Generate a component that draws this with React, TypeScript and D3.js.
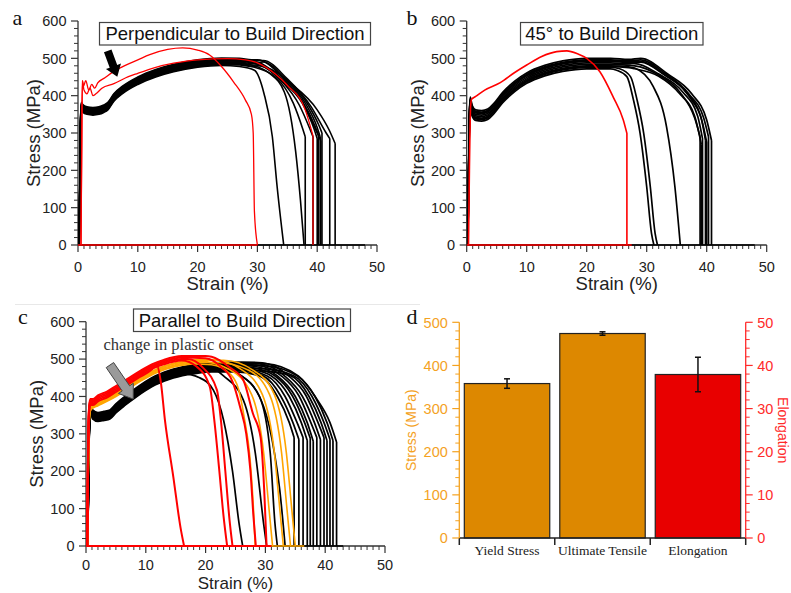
import React from 'react';
import * as d3 from 'd3';

type Pt = [number, number];

const SANS = '"Liberation Sans", Arial, sans-serif';
const SERIF = '"Liberation Serif", "Times New Roman", serif';

// ---------- a) perpendicular to build direction ----------
const aBlackBase: Pt[] = [[0.2,0],[0.3,150],[0.42,320],[0.55,372],[0.8,366],[1.5,360],[2.5,358],[3.5,360],[4.3,365],[5,372],[6,395],[7.5,416],[10,440],[13,460],[16,474],[20,486],[24,491],[27,490],[29,486]];
const aBlackOffsets = [-10, -6, -2, 2, 6, 10, -8, 8, 0, 4, -4];
const aBlackNecks: Pt[][] = [
  [[27,488],[29.5,468],[31.1,406],[32.5,290],[33.3,156],[34.4,0]],
  [[29,484],[33,450],[36,380],[37.6,310],[38,290]],
  [[29,484],[32,460],[34.5,410],[36.4,250],[37.2,120],[37.8,0]],
  [[30,482],[34,440],[37,375],[38.8,310],[39.3,290]],
  [[30,484],[34,445],[37.5,385],[39.6,320],[40.2,295]],
  [[30,486],[34.5,445],[38,380],[40,315],[40.5,290]],
  [[30,488],[35,440],[38.5,375],[40.3,320],[40.8,300]],
  [[31,486],[35,445],[39,370],[41.5,300],[42.1,285]],
  [[31,490],[35,440],[40,362],[42,308],[43,272]],
  [[30,484],[34,440],[37.5,380],[39.5,310],[40,285]],
  [[30,486],[34.5,440],[38,370],[40,300],[40.6,280]],
];
const aRed1: Pt[] = [[0.5,0],[0.6,220],[0.7,440],[0.9,425],[1.3,440],[1.8,415],[2.3,430],[2.8,420],[3.3,434],[4.5,448],[6,465],[8,482],[10,496],[12,510],[15,524],[17.5,528],[20,522],[22,509],[24,478],[26,437],[28,388],[29,350],[29.3,300],[29.5,90],[30,0]];
const aRed2: Pt[] = [[0.5,0],[0.6,200],[0.75,440],[1,415],[1.5,405],[2,420],[2.5,400],[3,405],[4,420],[6,432],[8,448],[10,460],[13,476],[16,487],[20,496],[25,499],[28,496],[30,488],[33,458],[35,428],[38,362],[39.3,292]];

// ---------- b) 45 deg to build direction ----------
const bBlackBase: Pt[] = [[0.2,0],[0.3,160],[0.45,340],[0.6,382],[0.9,360],[1.5,348],[2.5,346],[3.5,350],[4.5,365],[6,395],[8,425],[10,447],[13,467],[16,479],[20,486],[24,486],[27,483]];
const bBlackOffsets = [-14, -10, -6, -2, 2, 6, 10, 14, -8, 8];
const bBlackNecks: Pt[][] = [
  [[25,482],[26.7,451],[27.8,388],[28.9,299],[30,156],[30.8,31],[31.2,0]],
  [[25.5,482],[27.3,451],[28.4,388],[29.5,299],[30.6,156],[31.4,31],[31.8,0]],
  [[28,480],[31.1,424],[33.3,317],[34.7,156],[35.6,0]],
  [[28,482],[32,455],[35.5,410],[38,340],[38.9,290]],
  [[28,484],[32,458],[36,410],[38.5,345],[39.3,285]],
  [[29,484],[33,455],[36.5,410],[39,345],[39.8,280]],
  [[29,486],[33,460],[37,405],[39.5,340],[40.3,290]],
  [[29,486],[33.5,458],[37.5,405],[40,335],[40.8,280]],
  [[28,480],[32,452],[35.5,405],[38,345],[39.1,270]],
  [[29,484],[33,456],[37,400],[39.4,320],[40,275]],
];
const bRed: Pt[] = [[0.3,0],[0.45,200],[0.65,370],[0.8,390],[1.5,398],[3,415],[5.6,435],[8,462],[10,482],[12.5,505],[15,518],[16.7,520],[18.5,512],[20,500],[22.2,464],[24.4,397],[26.1,335],[26.7,299]];

// ---------- c) parallel to build direction ----------
const cBlackBase: Pt[] = [[0.3,0],[0.4,160],[0.6,340],[0.8,378],[1.1,352],[2,345],[3,348],[4,352],[5,368],[6.5,388],[8.5,412],[11,438],[14,458],[17,470],[21,478],[26,480],[30,478]];
const cBlackOffsets = [-12, -9, -6, -3, 0, 3, 6, 9, 12, -10, -4, 4, 10, -7, 7, -1, 1];
const cBlackNecks: Pt[][] = [
  [[25,478],[29,455],[32,400],[34,330],[34.8,290]],
  [[25.5,478],[29.6,455],[32.6,400],[34.6,330],[35.6,285]],
  [[26,478],[30.3,455],[33.3,400],[35.3,330],[36.3,290]],
  [[27,478],[31,455],[34,400],[36,330],[37,282]],
  [[27.5,478],[31.5,456],[34.5,402],[36.5,332],[37.5,288]],
  [[28,478],[32,455],[35,400],[37,330],[38,280]],
  [[28.5,478],[32.6,456],[35.6,402],[37.6,330],[38.6,290]],
  [[29,478],[33.2,455],[36.2,400],[38.2,330],[39.2,285]],
  [[29.5,478],[33.8,456],[36.8,402],[38.8,330],[39.8,290]],
  [[30,478],[34.3,455],[37.3,400],[39.3,330],[40.3,282]],
  [[30,478],[34.8,455],[37.8,400],[39.8,330],[40.8,285]],
  [[30,478],[35.3,455],[38.3,400],[40.3,330],[41.3,282]],
  [[30,478],[35.5,455],[38.5,395],[40.8,330],[41.9,278]],
  [[16,468],[19,450],[21.3,417],[23,337],[24.5,200],[25.6,60],[26.2,0]],
  [[20,476],[23,455],[26.3,391],[28.3,250],[29.7,60],[30.2,0]],
  [[22,478],[26,455],[29.7,373],[31.5,250],[32.4,150],[33.3,0]],
  [[22,478],[25.5,460],[29,400],[30.8,250],[31.6,60],[32,0]],
];
const cOrangeBase: Pt[] = [[0.25,0],[0.35,160],[0.55,340],[0.7,365],[1,372],[2,380],[3.5,392],[5,405],[7,425],[9,445],[12,470],[15,485],[19,494],[23,495],[27,490]];
const cOrangeOffsets = [-5, 0, 5, -3, 3];
const cOrangeNecks: Pt[][] = [
  [[18,492],[21,485],[24.1,460],[25.5,420],[26.5,340],[27.4,239],[28,100],[28.3,0]],
  [[19,494],[24,472],[27.7,405],[29.7,250],[30.6,100],[31.2,0]],
  [[21,494],[26,472],[29.5,405],[31.5,250],[32.4,100],[33,0]],
  [[22,494],[27.2,470],[30.7,405],[32.7,250],[33.6,100],[34.2,0]],
  [[23,494],[28,470],[31.5,405],[33.5,250],[34.4,100],[35,0]],
];
const cRedBase: Pt[] = [[0.2,0],[0.3,180],[0.5,360],[0.7,385],[1.2,385],[2,395],[3.5,405],[5,420],[7,440],[9,460],[11,478],[13,490],[16,500],[20,500],[24,495]];
const cRedOffsets = [-8, -4, 0, 4, 8];
const cRedNecks: Pt[][] = [
  [[11,480],[11.8,485],[12.5,440],[13.2,337],[14.6,185],[15.8,50],[16.4,0]],
  [[16,500],[18.5,480],[20.7,426],[21.5,330],[22.3,200],[23,80],[23.6,0]],
  [[17,500],[19.5,478],[21.9,417],[22.6,330],[23.3,200],[24,70],[24.5,0]],
  [[20,498],[22.5,480],[24.5,440],[25.8,370],[26.8,300],[27.5,200],[28,80],[28.4,0]],
  [[21,498],[24,478],[26.3,444],[27.9,355],[29.2,290],[29.8,150],[30.2,0]],
];

// ---------- d) summary bars ----------
const dCategories = ['Yield Stress', 'Ultimate Tensile', 'Elongation'];
const dValues = [358, 474, 37.9];
const dErrors = [11, 4, 4];
const dAxisOf = ['left', 'left', 'right'];
const dStressTicks = [0, 100, 200, 300, 400, 500];
const dElongTicks = [0, 10, 20, 30, 40, 50];

function specimens(base: Pt[], offsets: number[], necks: Pt[][]): Pt[][] {
  return necks.map((neck, i) => {
    const off = offsets[i % offsets.length];
    const start = neck[0][0];
    const pre = base.filter(d => d[0] < start).map(d => [d[0], d[1] > 0 ? d[1] + off : 0] as Pt);
    const tail = neck.map((d, j) => (j === 0 ? [d[0], d[1] + off] : d) as Pt);
    return [...pre, ...tail];
  });
}

function arrowPoints(x1: number, y1: number, x2: number, y2: number, sh: number, hh: number, hl: number) {
  const L = Math.hypot(x2 - x1, y2 - y1);
  const ux = (x2 - x1) / L, uy = (y2 - y1) / L;
  const nx = -uy, ny = ux;
  const bx = x2 - ux * hl, by = y2 - uy * hl;
  const pts = [[x1 + nx * sh, y1 + ny * sh], [bx + nx * sh, by + ny * sh], [bx + nx * hh, by + ny * hh], [x2, y2],
    [bx - nx * hh, by - ny * hh], [bx - nx * sh, by - ny * sh], [x1 - nx * sh, y1 - ny * sh]];
  return pts.map(p => p.join(',')).join(' ');
}

interface Group { color: string; width: number; curves: Pt[][]; zeroTo: number }

interface PanelProps {
  l: number; r: number; t: number; b: number;
  groups: Group[];
  label: string; labelX: number; labelY: number;
  title: string; titleRect: [number, number, number, number];
  yTitleX: number; xTitleY: number; xTitleSize?: number; xTickDy?: number;
  extra?: (x: d3.ScaleLinear<number, number>, y: d3.ScaleLinear<number, number>) => React.ReactNode;
}

function StressPanel(p: PanelProps) {
  const x = d3.scaleLinear().domain([0, 50]).range([p.l, p.r]);
  const y = d3.scaleLinear().domain([0, 600]).range([p.b, p.t]);
  const smooth = d3.line<Pt>().x(d => x(d[0])).y(d => y(d[1])).curve(d3.curveMonotoneX);
  const straight = d3.line<Pt>().x(d => x(d[0])).y(d => y(d[1]));
  const xMajor = x.ticks(5);
  const xMinor = x.ticks(50).filter(v => v % 10 !== 0);
  const yMajor = y.ticks(6);
  const yMinor = y.ticks(30).filter(v => v % 100 !== 0);
  const ax = '#333';
  const [rx, ry, rw, rh] = p.titleRect;
  return (
    <g>
      {/* axes */}
      <line x1={p.l} x2={p.r} y1={p.b} y2={p.b} stroke={ax} strokeWidth={1.3} />
      <line x1={p.l} x2={p.l} y1={p.b} y2={p.t} stroke={ax} strokeWidth={1.3} />
      {xMajor.map(v => <line key={'xM' + v} x1={x(v)} x2={x(v)} y1={p.b} y2={p.b + 7} stroke={ax} strokeWidth={1.2} />)}
      {xMinor.map(v => <line key={'xm' + v} x1={x(v)} x2={x(v)} y1={p.b} y2={p.b + 4} stroke={ax} strokeWidth={1} />)}
      {yMajor.map(v => <line key={'yM' + v} x1={p.l - 7} x2={p.l} y1={y(v)} y2={y(v)} stroke={ax} strokeWidth={1.2} />)}
      {yMinor.map(v => <line key={'ym' + v} x1={p.l - 4} x2={p.l} y1={y(v)} y2={y(v)} stroke={ax} strokeWidth={1} />)}
      {xMajor.map(v => (
        <text key={'xt' + v} x={x(v)} y={p.b + (p.xTickDy ?? 26.5)} textAnchor="middle" fontSize={14.5} fill="#222">{v}</text>
      ))}
      {yMajor.map(v => (
        <text key={'yt' + v} x={p.l - 11.5} y={y(v)} dy="0.36em" textAnchor="end" fontSize={14.5} fill="#222">{v}</text>
      ))}
      <text x={(p.l + p.r) / 2} y={p.xTitleY} textAnchor="middle" fontSize={p.xTitleSize ?? 18.5} fill="#222">Strain (%)</text>
      <text transform={`translate(${p.yTitleX},${(p.t + p.b) / 2}) rotate(-90)`} textAnchor="middle" fontSize={18.5} fill="#222">Stress (MPa)</text>

      {/* curves */}
      {p.groups.map((g, gi) => (
        <g key={gi} fill="none" stroke={g.color} strokeWidth={g.width} strokeLinejoin="round">
          {g.curves.map((c, ci) => {
            const last = c[c.length - 1];
            const d = (smooth(c) || '') + (last[1] > 0 ? straight([last, [last[0], 0]]) || '' : '');
            return <path key={ci} d={d} />;
          })}
          <path d={straight([[0, 0], [g.zeroTo, 0]]) || ''} />
        </g>
      ))}

      {p.extra && p.extra(x, y)}

      {/* title box + panel letter */}
      <rect x={rx} y={ry} width={rw} height={rh} fill="#fff" stroke="#444" strokeWidth={1.2} />
      <text x={rx + rw / 2} y={ry + rh / 2 + 6.6} textAnchor="middle" fontSize={18.5} fill="#111">{p.title}</text>
      <text x={p.labelX} y={p.labelY} fontFamily={SERIF} fontSize={22} fill="#111">{p.label}</text>
    </g>
  );
}

function BarPanel() {
  const L = 459.3, R = 745.7, B = 538, T = 322.3;
  const xb = d3.scaleBand<string>().domain(dCategories).range([L, R]).paddingInner(0.105).paddingOuter(0.0525);
  const yL = d3.scaleLinear().domain([0, 500]).range([B, T]);
  const yR = d3.scaleLinear().domain([0, 50]).range([B, T]);
  const orange = '#f4a21f';
  const red = '#ff2a2a';
  const half = (xb.step() * xb.paddingInner()) / 2;
  const bounds = [L, ...dCategories.slice(1).map(c => (xb(c) as number) - half), R];
  const leftMinor = yL.ticks(25).filter(v => v % 100 !== 0);
  const rightMinor = yR.ticks(25).filter(v => v % 10 !== 0);
  return (
    <g>
      {dCategories.map((c, i) => {
        const ys = dAxisOf[i] === 'left' ? yL : yR;
        const x0 = xb(c) as number;
        const cx = x0 + xb.bandwidth() / 2;
        const v = dValues[i], e = dErrors[i];
        return (
          <g key={c}>
            <rect x={x0} y={ys(v)} width={xb.bandwidth()} height={B - ys(v)}
              fill={dAxisOf[i] === 'left' ? '#dd8800' : '#e80000'} stroke="#222" strokeWidth={1.2} />
            <g stroke="#111" strokeWidth={1.5}>
              <line x1={cx} x2={cx} y1={ys(v - e)} y2={ys(v + e)} />
              <line x1={cx - 3} x2={cx + 3} y1={ys(v - e)} y2={ys(v - e)} />
              <line x1={cx - 3} x2={cx + 3} y1={ys(v + e)} y2={ys(v + e)} />
            </g>
            <text x={cx} y={555} textAnchor="middle" fontFamily={SERIF} fontSize={13.5} fill="#222">{c}</text>
          </g>
        );
      })}
      {/* bottom axis */}
      <line x1={L} x2={R} y1={B} y2={B} stroke="#222" strokeWidth={1.5} />
      {bounds.map((v, i) => <line key={i} x1={v} x2={v} y1={B} y2={B + 7} stroke="#222" strokeWidth={1.5} />)}
      {/* left axis */}
      <line x1={L} x2={L} y1={B} y2={T} stroke={orange} strokeWidth={1.3} />
      {dStressTicks.map(v => (
        <g key={'l' + v}>
          <line x1={L - 7} x2={L} y1={yL(v)} y2={yL(v)} stroke={orange} strokeWidth={1.2} />
          <text x={L - 11.5} y={yL(v)} dy="0.36em" textAnchor="end" fontSize={14.5} fill={orange}>{v}</text>
        </g>
      ))}
      {leftMinor.map(v => <line key={'lm' + v} x1={L - 4} x2={L} y1={yL(v)} y2={yL(v)} stroke={orange} strokeWidth={1} />)}
      <text transform={`translate(415.5,${(T + B) / 2}) rotate(-90)`} textAnchor="middle" fontSize={14} fill={orange}>Stress (MPa)</text>
      {/* right axis */}
      <line x1={R} x2={R} y1={B} y2={T} stroke={red} strokeWidth={1.3} />
      {dElongTicks.map(v => (
        <g key={'r' + v}>
          <line x1={R} x2={R + 7} y1={yR(v)} y2={yR(v)} stroke={red} strokeWidth={1.2} />
          <text x={R + 11.5} y={yR(v)} dy="0.36em" textAnchor="start" fontSize={14.5} fill={red}>{v}</text>
        </g>
      ))}
      {rightMinor.map(v => <line key={'rm' + v} x1={R} x2={R + 4} y1={yR(v)} y2={yR(v)} stroke={red} strokeWidth={1} />)}
      <text transform={`translate(778,${(T + B) / 2}) rotate(90)`} textAnchor="middle" fontSize={14} fill={red}>Elongation</text>
      <text x={406.5} y={323.5} fontFamily={SERIF} fontSize={22} fill="#111">d</text>
    </g>
  );
}

export default function App() {
  const aGroups: Group[] = [
    { color: '#000', width: 1.6, curves: specimens(aBlackBase, aBlackOffsets, aBlackNecks), zeroTo: 48 },
    { color: '#ff0000', width: 1.3, curves: [aRed1, aRed2], zeroTo: 30 },
  ];
  const bGroups: Group[] = [
    { color: '#000', width: 1.7, curves: specimens(bBlackBase, bBlackOffsets, bBlackNecks), zeroTo: 48 },
    { color: '#ff0000', width: 1.6, curves: [bRed], zeroTo: 27.5 },
  ];
  const cGroups: Group[] = [
    { color: '#000', width: 1.7, curves: specimens(cBlackBase, cBlackOffsets, cBlackNecks), zeroTo: 43 },
    { color: '#ffa500', width: 1.6, curves: specimens(cOrangeBase, cOrangeOffsets, cOrangeNecks), zeroTo: 36.5 },
    { color: '#ff0000', width: 2, curves: specimens(cRedBase, cRedOffsets, cRedNecks), zeroTo: 31 },
  ];
  return (
    <svg width={791} height={593} style={{ position: 'absolute', left: 0, top: 0, display: 'block' }} fontFamily={SANS}>
      <rect width={791} height={593} fill="#fff" />
      <line x1={15} x2={420} y1={304.5} y2={304.5} stroke="#e8e8e8" />
      <StressPanel l={78} r={377} t={21} b={245} groups={aGroups}
        label="a" labelX={12.5} labelY={25} title="Perpendicular to Build Direction" titleRect={[99.5, 22.5, 271, 22.5]}
        yTitleX={39.5} xTitleY={290}
        extra={(x, y) => (
          <polygon points={arrowPoints(x(4.97), y(520), x(6.57), y(451), 4, 8, 11)} fill="#000" />
        )} />
      <StressPanel l={466.7} r={766.7} t={21} b={245} groups={bGroups}
        label="b" labelX={406.5} labelY={25} title="45° to Build Direction" titleRect={[520.5, 22.5, 182.5, 22.5]}
        yTitleX={424} xTitleY={290} />
      <StressPanel l={86} r={385} t={321.7} b={546} groups={cGroups}
        label="c" labelX={18} labelY={323.5} title="Parallel to Build Direction" titleRect={[133.5, 309, 217, 22.5]}
        yTitleX={43} xTitleY={589} xTitleSize={17} xTickDy={24.3}
        extra={(x, y) => (
          <g>
            <polygon points={arrowPoints(x(4.0), y(484), x(7.9), y(393), 4.5, 9, 13)} fill="#9a9a9a" stroke="#444" strokeWidth={1} />
            <text x={103.5} y={349.5} fontFamily={SERIF} fontSize={16.5} fill="#333">change in plastic onset</text>
          </g>
        )} />
      <BarPanel />
    </svg>
  );
}
